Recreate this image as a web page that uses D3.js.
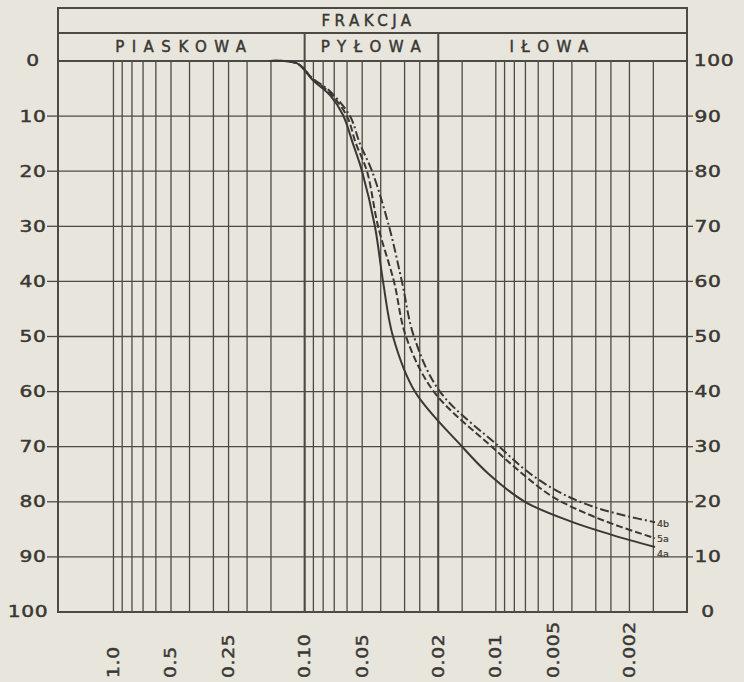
<!DOCTYPE html>
<html><head><meta charset="utf-8">
<script src="https://cdn.jsdelivr.net/npm/d3@7"></script>
<style>html,body{margin:0;padding:0;background:#e7e5dc;} svg{display:block;}</style>
</head><body>
<svg id="chart" width="744" height="682"></svg>
<script>
// ---- data ----
const percentTicks = [0,10,20,30,40,50,60,70,80,90,100];
const sizeTickValues = [1.0,0.5,0.25,0.10,0.05,0.02,0.01,0.005,0.002];
const sizeTickLabels = ["1.0","0.5","0.25","0.10","0.05","0.02","0.01","0.005","0.002"];
const gridSizes = [1,0.9,0.8,0.7,0.6,0.5,0.4,0.3,0.25,0.2,0.15,0.1,0.09,0.08,0.07,0.06,0.05,0.04,0.03,0.025,0.02,0.015,0.01,0.009,0.008,0.007,0.006,0.005,0.004,0.003,0.0025,0.002,0.0015];
const headerTitle = "FRAKCJA";
const fractionNames = ["PIASKOWA","PYŁOWA","IŁOWA"];
const fractionBounds = [1.95,0.1,0.02,0.001];
const seriesNames = ["4a","5a","4b"];
const size4a = [0.152,0.110,0.0905,0.0737,0.0630,0.0559,0.0501,0.0429,0.0389,0.0345,0.0265,0.0150,0.01086,0.00704,0.00410,0.00247,0.00147];
const pct4a  = [0,0.4,3.5,6.2,9.8,15,20,30,40,50,60,70,75,80,83.5,86,88.2];
const size5a = [0.152,0.110,0.0905,0.0737,0.0601,0.0539,0.0472,0.0413,0.0341,0.0295,0.0211,0.0105,0.00721,0.00509,0.00342,0.00224,0.00147];
const pct5a  = [0,0.4,3.3,5.8,10,15,20,30,40,50,60,70,75,79,82,84.5,86.6];
const size4b = [0.152,0.110,0.0905,0.0737,0.0579,0.0514,0.0444,0.0362,0.0310,0.0268,0.0196,0.0096,0.00655,0.00451,0.00303,0.00206,0.00147];
const pct4b  = [0,0.4,3.2,5.5,10,15,20,30,40,50,60,70,75,78.5,81,82.6,83.7];

// ---- layout ----
const W = 744, H = 682;
const L = 58, R = 687, T = 61, B = 612;
const headTop = 8, headMid = 33;
const ink = "#4d4a45", dark = "#3a3834";
const fontFam = "'DejaVu Sans', sans-serif";

const svg = d3.select("#chart");
svg.append("rect").attr("width", W).attr("height", H).attr("fill", "#e7e5dc");

const x = d3.scaleLog().domain([fractionBounds[0], fractionBounds[3]]).range([L, R]);
const y = d3.scaleLinear().domain([0, 100]).range([T, B]);

function styleText(sel, size, spacing) {
  return sel.attr("font-family", fontFam).attr("font-size", size).attr("letter-spacing", spacing)
    .attr("fill", dark).attr("stroke", dark).attr("stroke-width", 0.45);
}

// vertical grid
svg.append("g").selectAll("line").data(gridSizes).join("line")
  .attr("x1", d => x(d)).attr("x2", d => x(d))
  .attr("y1", T).attr("y2", B)
  .attr("stroke", ink).attr("stroke-width", 1.3);

// horizontal grid
svg.append("g").selectAll("line").data(percentTicks).join("line")
  .attr("x1", L).attr("x2", R)
  .attr("y1", d => y(d)).attr("y2", d => y(d))
  .attr("stroke", ink).attr("stroke-width", 1.3);

// fraction boundaries (heavier, through header row 2)
svg.append("g").selectAll("line").data(fractionBounds.slice(1, 3)).join("line")
  .attr("x1", d => x(d)).attr("x2", d => x(d))
  .attr("y1", headMid).attr("y2", B)
  .attr("stroke", ink).attr("stroke-width", 2);

// frame + header
svg.append("rect").attr("x", L).attr("y", headTop).attr("width", R - L).attr("height", B - headTop)
  .attr("fill", "none").attr("stroke", ink).attr("stroke-width", 2);
[headMid, T].forEach(v => svg.append("line").attr("x1", L).attr("x2", R).attr("y1", v).attr("y2", v)
  .attr("stroke", ink).attr("stroke-width", 2));

styleText(svg.append("text").attr("x", (L + R) / 2 - 4).attr("y", (headTop + headMid) / 2)
  .attr("dy", "0.36em").attr("text-anchor", "middle"), 15, 4.5).text(headerTitle);

styleText(svg.append("g").selectAll("text").data(fractionNames).join("text")
  .attr("x", (d, i) => (x(fractionBounds[i]) + x(fractionBounds[i + 1])) / 2 + (i === 2 ? -10 : 3))
  .attr("y", (headMid + T) / 2).attr("dy", "0.36em").attr("text-anchor", "middle"), 15, 7.5)
  .text(d => d);

// left axis ticks & labels
svg.append("g").selectAll("line").data(percentTicks.slice(1, -1)).join("line")
  .attr("x1", 47).attr("x2", L).attr("y1", d => y(d)).attr("y2", d => y(d))
  .attr("stroke", ink).attr("stroke-width", 1.3);
styleText(svg.append("g").selectAll("text").data(percentTicks).join("text")
  .attr("transform", d => `translate(${d === 100 ? 28 : 33},${y(d)}) scale(1.35,1)`)
  .attr("dy", "0.36em").attr("text-anchor", "middle"), 15, 0.5)
  .text(d => d);

// right axis ticks & labels (percent finer)
svg.append("g").selectAll("line").data(percentTicks.slice(1, -1)).join("line")
  .attr("x1", R).attr("x2", R + 6).attr("y1", d => y(d)).attr("y2", d => y(d))
  .attr("stroke", ink).attr("stroke-width", 1.3);
styleText(svg.append("g").selectAll("text").data(percentTicks).join("text")
  .attr("transform", d => `translate(${d === 0 ? 714 : 708},${y(d)}) scale(1.35,1)`)
  .attr("dy", "0.36em").attr("text-anchor", "middle"), 15, 0.5)
  .text(d => 100 - d);

// bottom size labels (rotated)
styleText(svg.append("g").selectAll("text").data(sizeTickValues).join("text")
  .attr("transform", d => `translate(${x(d)},678) rotate(-90) scale(1.25,1)`)
  .attr("dy", "0.36em").attr("text-anchor", "start"), 15, 0.5)
  .text((d, i) => sizeTickLabels[i]);

// curves
const series = [
  {name: seriesNames[0], sizes: size4a, pcts: pct4a, dash: null, dy: 7},
  {name: seriesNames[1], sizes: size5a, pcts: pct5a, dash: "7,3", dy: 1},
  {name: seriesNames[2], sizes: size4b, pcts: pct4b, dash: "9,3,2,3", dy: 1}
];
const lineGen = d3.line().x(d => x(d[0])).y(d => y(d[1])).curve(d3.curveCatmullRom.alpha(0.5));
series.forEach(s => {
  const pts = s.sizes.map((v, i) => [v, s.pcts[i]]);
  svg.append("path").attr("d", lineGen(pts))
    .attr("fill", "none").attr("stroke", dark).attr("stroke-width", 2)
    .attr("stroke-dasharray", s.dash);
  const last = pts[pts.length - 1];
  styleText(svg.append("text").attr("x", x(last[0]) + 2).attr("y", y(last[1]) + s.dy)
    .attr("dy", "0.35em"), 9.5, 0).attr("stroke-width", 0.2).text(s.name);
});
</script>
</body></html>
